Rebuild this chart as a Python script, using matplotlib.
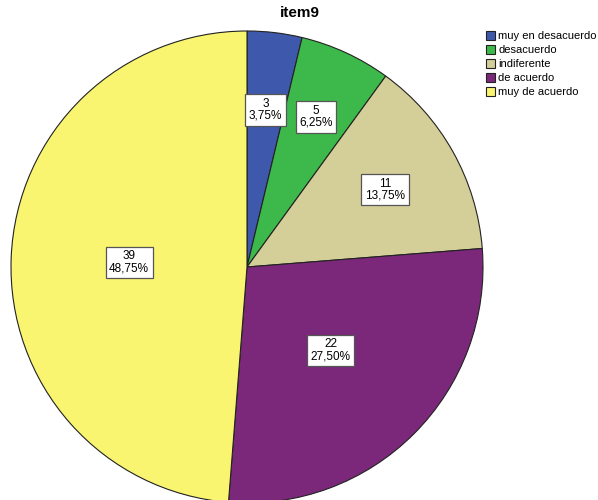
import numpy as np
import matplotlib.pyplot as plt

plt.rcParams['font.family'] = ['Liberation Sans', 'DejaVu Sans']

categorias = ["muy en desacuerdo", "desacuerdo", "indiferente", "de acuerdo", "muy de acuerdo"]
conteos = [3, 5, 11, 22, 39]
porcentajes = ["3,75%", "6,25%", "13,75%", "27,50%", "48,75%"]
colores = ["#3E58AC", "#3DB94B", "#D4CF99", "#7B287A", "#FAF570"]

fig = plt.figure(figsize=(5.98, 5.0), dpi=100)
# pie center ~ (247, 267) px, radius ~236 px
r_px = 236
ax = fig.add_axes([(247 - r_px) / 598, (500 - 267 - r_px) / 500, 2 * r_px / 598, 2 * r_px / 500])

wedges, _ = ax.pie(conteos, colors=colores, startangle=90, counterclock=False,
                   wedgeprops=dict(edgecolor="#222222", linewidth=0.8))
ax.set_aspect('equal')
ax.set_xlim(-1, 1)
ax.set_ylim(-1, 1)

radios = [0.67, 0.70, 0.67, 0.50, 0.50]
for w, n, p, rr in zip(wedges, conteos, porcentajes, radios):
    ang = np.deg2rad((w.theta1 + w.theta2) / 2)
    ax.text(rr * np.cos(ang), rr * np.sin(ang), f"{n}\n{p}", ha="center", va="center",
            fontsize=8.5, linespacing=1.0,
            bbox=dict(boxstyle="square,pad=0.3", facecolor="white", edgecolor="#555555", linewidth=0.9))

fig.text(300 / 598, 1 - 13 / 500, "item9", ha="center", va="center", fontsize=11, fontweight="bold")

fig.legend(wedges, categorias, loc="upper left", bbox_to_anchor=(486 / 598, 1 - 31 / 500),
           frameon=False, fontsize=8, handlelength=0.8, handleheight=0.8, handletextpad=0.3,
           labelspacing=0.35, borderpad=0, borderaxespad=0)

fig.savefig("out.png", dpi=100)
